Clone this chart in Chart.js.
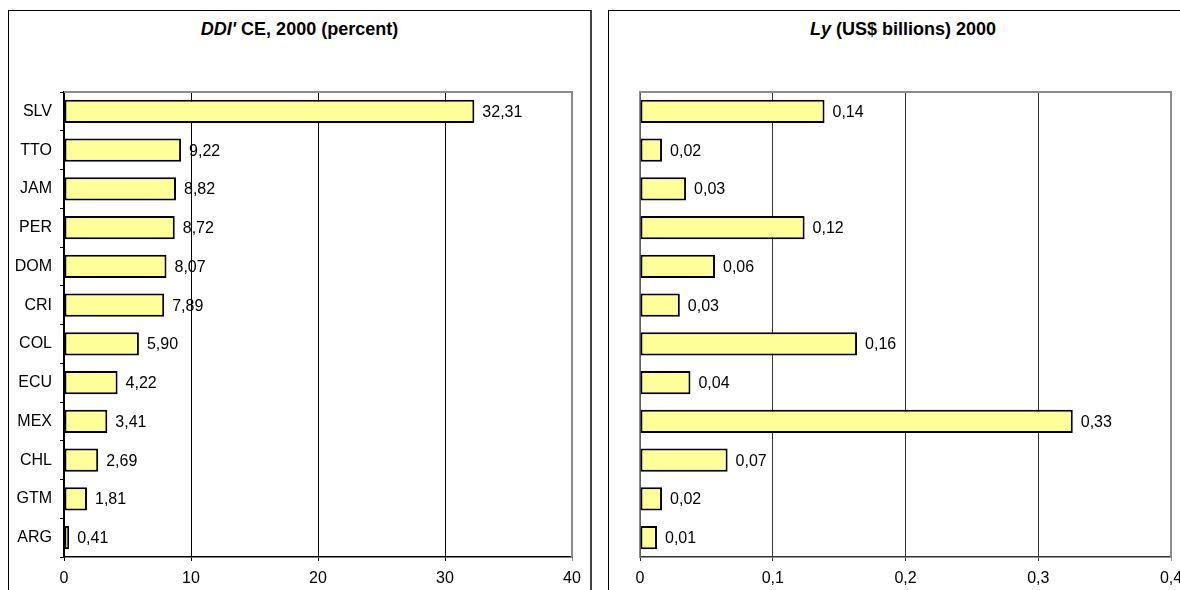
<!DOCTYPE html>
<html>
<head>
<meta charset="utf-8">
<script src="https://cdn.jsdelivr.net/npm/chart.js@4/dist/chart.umd.min.js"></script>
<style>
  html, body { margin: 0; padding: 0; background: #fff; overflow: hidden; width: 1180px; height: 590px; }
  .panel { position: absolute; background: #fff; box-sizing: border-box; border: 1px solid #000; }
  #panelLeft { left: 8px; top: 10px; width: 584px; height: 620px; border-right: 2px solid #444; }
  #panelRight { left: 608px; top: 10px; width: 600px; height: 620px; }
  .title { position: absolute; left: 0; right: 0; top: 8px; text-align: center;
    font: bold 18px "Liberation Sans", Arial, sans-serif; color: #000; }
  canvas { position: absolute; left: 0; top: 0; }
</style>
</head>
<body>
<div class="panel" id="panelLeft">
  <div class="title"><i>DDI'</i> CE, 2000 (percent)</div>
  <canvas id="chartLeft" width="581" height="579"></canvas>
</div>
<div class="panel" id="panelRight">
  <div class="title" style="width:588px"><i>Ly</i> (US$ billions) 2000</div>
  <canvas id="chartRight" width="598" height="579"></canvas>
</div>
<script>
// countries, top to bottom
const countries = ['SLV', 'TTO', 'JAM', 'PER', 'DOM', 'CRI', 'COL', 'ECU', 'MEX', 'CHL', 'GTM', 'ARG']
// DDI' CE, 2000 (percent)
const ddiValues = [32.31, 9.22, 8.82, 8.72, 8.07, 7.89, 5.90, 4.22, 3.41, 2.69, 1.81, 0.41]
// Ly (US$ billions) 2000
const lyValues = [0.139, 0.0166, 0.0347, 0.124, 0.0565, 0.030, 0.1635, 0.038, 0.326, 0.066, 0.0166, 0.0128]
const ddiAxis = { min: 0, max: 40, step: 10 }
const lyAxis = { min: 0, max: 0.4, step: 0.1 }

const FONT = '"Liberation Sans", Arial, sans-serif'
const BAR_FILL = '#FFFF99'

const comma = (v, d) => v.toFixed(d).replace('.', ',')

// value labels right of each bar
const barLabels = {
  id: 'barLabels',
  afterDatasetsDraw(chart) {
    const ctx = chart.ctx
    const meta = chart.getDatasetMeta(0)
    const data = chart.data.datasets[0].data
    ctx.save()
    ctx.font = '16px ' + FONT
    ctx.fillStyle = '#000'
    ctx.textBaseline = 'middle'
    ctx.textAlign = 'left'
    meta.data.forEach((bar, i) => {
      ctx.fillText(comma(data[i], 2), bar.x + 8, bar.y + 1)
    })
    ctx.restore()
  }
}

// gray frame on top and right of the plot area
const plotFrame = {
  id: 'plotFrame',
  beforeDatasetsDraw(chart, args, opts) {
    const { ctx, chartArea: a } = chart
    ctx.save()
    ctx.strokeStyle = opts.color
    ctx.lineWidth = 2
    ctx.beginPath()
    ctx.moveTo(a.left, a.top)
    ctx.lineTo(a.right, a.top)
    ctx.lineTo(a.right, a.bottom)
    ctx.stroke()
    ctx.restore()
  }
}

function makeChart(id, values, axis, cfg) {
  return new Chart(document.getElementById(id), {
    type: 'bar',
    data: {
      labels: countries,
      datasets: [{
        data: values,
        backgroundColor: BAR_FILL,
        borderColor: '#000',
        borderWidth: 2,
        borderSkipped: false,
        barPercentage: 0.6,
        categoryPercentage: 1
      }]
    },
    options: {
      indexAxis: 'y',
      responsive: false,
      animation: false,
      devicePixelRatio: 1,
      layout: { padding: { top: 81, right: cfg.padRight, left: 0, bottom: 0 } },
      plugins: {
        legend: { display: false },
        tooltip: { enabled: false },
        plotFrame: { color: '#8c8c8c' }
      },
      scales: {
        x: {
          min: axis.min,
          max: axis.max,
          afterFit: s => { s.height = 33 },
          ticks: {
            stepSize: axis.step,
            color: '#000',
            padding: 8,
            maxRotation: 0,
            font: { family: FONT, size: 16 },
            callback: v => v === 0 ? '0' : comma(v, cfg.tickDigits)
          },
          grid: {
            color: c => c.tick && Math.abs(c.tick.value - axis.max) < 1e-9 ? '#8c8c8c' : cfg.gridColor,
            lineWidth: 1,
            tickLength: 4,
            drawTicks: true
          },
          border: { display: true, color: cfg.xAxisColor, width: 1.5 }
        },
        y: {
          afterFit: s => { s.width = cfg.yWidth },
          ticks: {
            display: cfg.showCats,
            color: '#000',
            padding: 8,
            font: { family: FONT, size: 16 }
          },
          grid: {
            drawOnChartArea: false,
            drawTicks: cfg.showCats,
            tickLength: 4,
            color: '#000'
          },
          border: { display: true, color: cfg.yAxisColor, width: 1.5 }
        }
      }
    },
    plugins: [plotFrame, barLabels]
  })
}

makeChart('chartLeft', ddiValues, ddiAxis, {
  padRight: 18, yWidth: 55, showCats: true, tickDigits: 0,
  gridColor: '#000', xAxisColor: '#000', yAxisColor: '#000'
})
makeChart('chartRight', lyValues, lyAxis, {
  padRight: 36, yWidth: 31, showCats: false, tickDigits: 1,
  gridColor: '#333', xAxisColor: '#333', yAxisColor: '#8c8c8c'
})
</script>
</body>
</html>
